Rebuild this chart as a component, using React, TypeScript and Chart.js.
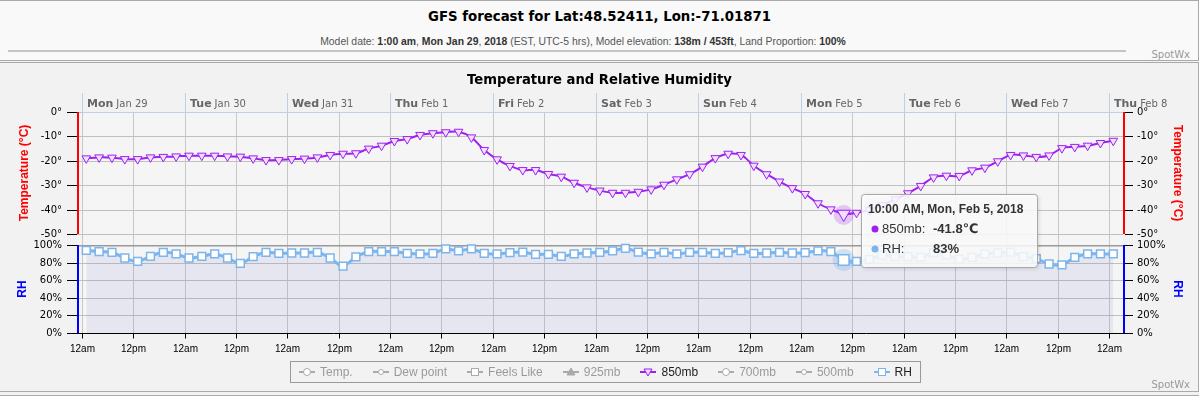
import React, { useEffect, useRef } from 'react';
import { Chart, registerables } from 'chart.js';

Chart.register(...registerables);

// Hours after Mon Jan 29 2018, 12:00 am (EST)
const HOURS = [
  1, 4, 7, 10, 13, 16, 19, 22,
  25, 28, 31, 34, 37, 40, 43, 46,
  49, 52, 55, 58, 61, 64, 67, 70,
  73, 76, 79, 82, 85, 88, 91, 94,
  97, 100, 103, 106, 109, 112, 115, 118,
  121, 124, 127, 130, 133, 136, 139, 142,
  145, 148, 151, 154, 157, 160, 163, 166,
  169, 172, 175, 178, 181, 184, 187, 190,
  193, 196, 199, 202, 205, 208, 211, 214,
  217, 220, 223, 226, 229, 232, 235, 238,
  241,
];

const T850 = [
  -19.0, -18.6, -18.7, -19.3, -19.3, -18.6, -18.4, -18.2,
  -17.9, -17.9, -17.9, -18.2, -18.3, -19.0, -19.7, -19.7,
  -19.3, -19.1, -18.6, -17.6, -17.1, -16.9, -15.0, -13.8,
  -11.9, -11.1, -9.4, -8.7, -8.3, -8.1, -10.4, -15.6,
  -19.4, -22.1, -23.8, -23.8, -25.4, -26.5, -29.0, -30.9,
  -32.2, -33.1, -33.1, -32.7, -31.7, -29.8, -27.6, -25.5,
  -22.4, -18.9, -17.1, -17.6, -22.0, -25.5, -28.5, -31.2,
  -33.6, -37.4, -39.9, -41.8, -41.3, -40.2, -38.1, -35.8,
  -33.3, -30.3, -26.8, -26.1, -26.2, -23.9, -22.8, -20.2,
  -17.6, -17.8, -18.4, -17.8, -14.8, -14.3, -13.8, -12.7,
  -11.8,
];

const RH = [
  94.0, 92.4, 91.7, 85.2, 81.4, 87.1, 91.7, 89.8,
  85.2, 87.1, 89.8, 85.2, 79.2, 86.7, 91.7, 90.5,
  90.9, 90.9, 91.7, 85.2, 76.1, 86.4, 92.4, 92.4,
  92.4, 90.5, 89.8, 90.5, 95.5, 93.2, 95.5, 90.5,
  89.8, 91.3, 92.0, 89.4, 89.4, 87.1, 89.8, 90.9,
  91.7, 93.2, 96.2, 92.0, 89.8, 91.7, 89.8, 91.7,
  91.7, 90.5, 91.3, 93.6, 90.5, 90.9, 91.7, 90.9,
  91.3, 93.2, 92.4, 83, 81.4, 83.7, 88.6, 86.7,
  86.7, 86.0, 91.3, 89.0, 83.7, 86.0, 89.8, 90.9,
  92.0, 86.7, 84.5, 78.4, 77.3, 86.0, 89.8, 89.8,
  89.8,
];

const DAY_HOURS = [0, 24, 48, 72, 96, 120, 144, 168, 192, 216, 240];
const DAY_NAMES = ['Mon', 'Tue', 'Wed', 'Thu', 'Fri', 'Sat', 'Sun', 'Mon', 'Tue', 'Wed', 'Thu'];
const DAY_DATES = ['Jan 29', 'Jan 30', 'Jan 31', 'Feb 1', 'Feb 2', 'Feb 3', 'Feb 4', 'Feb 5', 'Feb 6', 'Feb 7', 'Feb 8'];

const X_TICKS = [0, 12, 24, 36, 48, 60, 72, 84, 96, 108, 120, 132, 144, 156, 168, 180, 192, 204, 216, 228, 240];
const X_TICK_LABELS = [
  '12am', '12pm', '12am', '12pm', '12am', '12pm', '12am', '12pm', '12am', '12pm', '12am',
  '12pm', '12am', '12pm', '12am', '12pm', '12am', '12pm', '12am', '12pm', '12am',
];

const TEMP_TICKS = [0, -10, -20, -30, -40, -50];
const RH_TICKS = [0, 20, 40, 60, 80, 100];

const HOVER = 59;
const TOOLTIP_TITLE = '10:00 AM, Mon, Feb 5, 2018';

const LEGEND_ITEMS = ['Temp.', 'Dew point', 'Feels Like', '925mb', '850mb', '700mb', '500mb', 'RH'];
const LEGEND_SYMBOLS = ['circle', 'circleSmall', 'square', 'triangle', 'triangleDown', 'circle', 'circleSmall', 'square'];
const LEGEND_VISIBLE = [false, false, false, false, true, false, false, true];
const LEGEND_COLORS = ['#aaaaaa', '#aaaaaa', '#aaaaaa', '#aaaaaa', '#a020f0', '#aaaaaa', '#aaaaaa', '#7cb5ec'];

const PURPLE = '#a020f0';
const BLUE = '#7cb5ec';

const decorPlugin = {
  id: 'decor',
  beforeDraw(chart: any) {
    const { ctx, chartArea: a, scales } = chart;
    const xs = scales.x, yT = scales.yT, yR = scales.yR;
    ctx.save();
    ctx.fillStyle = '#f5f5f5';
    ctx.fillRect(a.left, a.top, a.right - a.left, a.bottom - a.top);
    ctx.lineWidth = 1;
    // vertical grid
    ctx.strokeStyle = '#c8c8c8';
    for (const h of X_TICKS) {
      const x = Math.round(xs.getPixelForValue(h)) + 0.5;
      ctx.beginPath(); ctx.moveTo(x, a.top); ctx.lineTo(x, a.bottom); ctx.stroke();
    }
    // horizontal grid
    ctx.strokeStyle = '#c0c0c0';
    for (const t of TEMP_TICKS) {
      const y = Math.round(yT.getPixelForValue(t)) + 0.5;
      ctx.beginPath(); ctx.moveTo(a.left, y); ctx.lineTo(a.right, y); ctx.stroke();
    }
    for (const r of RH_TICKS) {
      if (r === 0 || r === 100) continue;
      const y = Math.round(yR.getPixelForValue(r)) + 0.5;
      ctx.beginPath(); ctx.moveTo(a.left, y); ctx.lineTo(a.right, y); ctx.stroke();
    }
    const y100 = Math.round(yR.getPixelForValue(100));
    ctx.fillStyle = '#9a9a9a';
    ctx.fillRect(a.left, y100, a.right - a.left, 1.5);
    // top axis line and day separators
    ctx.strokeStyle = '#c0d0e0';
    const x0 = Math.round(xs.getPixelForValue(DAY_HOURS[0]));
    ctx.beginPath(); ctx.moveTo(x0, a.top + 0.5); ctx.lineTo(a.right, a.top + 0.5); ctx.stroke();
    for (const h of DAY_HOURS) {
      const x = Math.round(xs.getPixelForValue(h)) + 0.5;
      ctx.beginPath(); ctx.moveTo(x, a.top - 19); ctx.lineTo(x, a.top); ctx.stroke();
    }
    ctx.restore();
  },
  beforeDatasetsDraw(chart: any) {
    const { ctx } = chart;
    const p = chart.getDatasetMeta(0).data[HOVER];
    const q = chart.getDatasetMeta(1).data[HOVER];
    ctx.save();
    ctx.fillStyle = 'rgba(160,32,240,0.22)';
    ctx.beginPath(); ctx.arc(p.x, p.y + 1, 10, 0, Math.PI * 2); ctx.fill();
    ctx.fillStyle = 'rgba(124,181,236,0.3)';
    ctx.beginPath(); ctx.arc(q.x, q.y, 11, 0, Math.PI * 2); ctx.fill();
    ctx.restore();
  },
  afterDatasetsDraw(chart: any) {
    const { ctx, chartArea: a, scales } = chart;
    const xs = scales.x, yT = scales.yT, yR = scales.yR;
    ctx.save();
    // bottom axis
    ctx.strokeStyle = '#000';
    ctx.lineWidth = 1;
    const yb = Math.round(a.bottom) + 0.5;
    ctx.beginPath(); ctx.moveTo(a.left - 10, yb); ctx.lineTo(a.right + 10, yb); ctx.stroke();
    ctx.font = '10px "Liberation Sans", Arial, sans-serif';
    ctx.fillStyle = '#000';
    ctx.textAlign = 'center';
    ctx.textBaseline = 'middle';
    X_TICKS.forEach((h, i) => {
      const x = Math.round(xs.getPixelForValue(h)) + 0.5;
      ctx.beginPath(); ctx.moveTo(x, yb); ctx.lineTo(x, yb + 5); ctx.stroke();
      ctx.fillText(X_TICK_LABELS[i], x, a.bottom + 16);
    });
    // temperature axes (left & right)
    const tTop = yT.getPixelForValue(0), tBot = yT.getPixelForValue(-50);
    const rTop = yR.getPixelForValue(100), rBot = yR.getPixelForValue(0);
    ctx.fillStyle = '#ff0000';
    ctx.fillRect(a.left, tTop, 2, tBot - tTop);
    ctx.fillRect(a.right, tTop, 2, tBot - tTop);
    ctx.fillStyle = '#0000ff';
    ctx.fillRect(a.left, rTop, 2, rBot - rTop);
    ctx.fillRect(a.right, rTop, 2, rBot - rTop);
    ctx.font = '10px "DejaVu Sans", sans-serif';
    ctx.fillStyle = '#000';
    const tick = (y: number, label: string) => {
      const yy = Math.round(y) + 0.5;
      ctx.beginPath(); ctx.moveTo(a.left - 10, yy); ctx.lineTo(a.left, yy); ctx.stroke();
      ctx.beginPath(); ctx.moveTo(a.right + 2, yy); ctx.lineTo(a.right + 10, yy); ctx.stroke();
      ctx.textAlign = 'right';
      ctx.fillText(label, a.left - 15, yy);
      ctx.textAlign = 'left';
      ctx.fillText(label, a.right + 14, yy);
    };
    TEMP_TICKS.forEach((t) => tick(yT.getPixelForValue(t), `${t}°`));
    RH_TICKS.forEach((r) => tick(yR.getPixelForValue(r), `${r}%`));
    // axis titles
    const title = (text: string, color: string, x: number, y: number, rot: number) => {
      ctx.save();
      ctx.translate(x, y);
      ctx.rotate(rot);
      ctx.font = 'bold 12px "Liberation Sans", Arial, sans-serif';
      ctx.fillStyle = color;
      ctx.textAlign = 'center';
      ctx.textBaseline = 'middle';
      ctx.fillText(text, 0, 0);
      ctx.restore();
    };
    const tMid = (tTop + tBot) / 2, rMid = (rTop + rBot) / 2;
    title('Temperature (°C)', '#ff0000', 25, tMid, -Math.PI / 2);
    title('RH', '#0000ff', 23, rMid, -Math.PI / 2);
    title('Temperature (°C)', '#ff0000', 1177, tMid, Math.PI / 2);
    title('RH', '#0000ff', 1177, rMid, Math.PI / 2);
    // day labels
    ctx.textAlign = 'left';
    ctx.textBaseline = 'middle';
    DAY_HOURS.forEach((h, i) => {
      const x = Math.round(xs.getPixelForValue(h)) + 5;
      ctx.fillStyle = '#666';
      ctx.font = 'bold 11px "DejaVu Sans", sans-serif';
      ctx.fillText(DAY_NAMES[i], x, a.top - 8);
      const w = ctx.measureText(DAY_NAMES[i]).width;
      ctx.font = '10px "DejaVu Sans", sans-serif';
      ctx.fillText(DAY_DATES[i], x + w + 3, a.top - 8);
    });
    ctx.restore();
  },
  afterDraw(chart: any) {
    const { ctx } = chart;
    const p = chart.getDatasetMeta(0).data[HOVER];
    const bx = Math.round(p.x) + 17, by = Math.round(p.y) - 20, bw = 176, bh = 73;
    ctx.save();
    ctx.shadowColor = 'rgba(0,0,0,0.18)';
    ctx.shadowOffsetX = 1;
    ctx.shadowOffsetY = 1;
    ctx.shadowBlur = 4;
    ctx.fillStyle = 'rgba(255,255,255,0.85)';
    ctx.beginPath();
    ctx.roundRect(bx + 0.5, by + 0.5, bw, bh, 3);
    ctx.fill();
    ctx.shadowColor = 'transparent';
    ctx.strokeStyle = '#a8a8a8';
    ctx.lineWidth = 1;
    ctx.stroke();
    ctx.textBaseline = 'middle';
    ctx.textAlign = 'left';
    ctx.fillStyle = '#333';
    ctx.font = 'bold 12px "Liberation Sans", Arial, sans-serif';
    ctx.fillText(TOOLTIP_TITLE, bx + 7, by + 16);
    const row = (y: number, color: string, name: string, val: string) => {
      ctx.fillStyle = color;
      ctx.beginPath(); ctx.arc(bx + 14, y, 3.5, 0, Math.PI * 2); ctx.fill();
      ctx.fillStyle = '#333';
      ctx.font = '13px "Liberation Sans", Arial, sans-serif';
      ctx.fillText(name, bx + 21, y);
      ctx.font = 'bold 13px "Liberation Sans", "DejaVu Sans", sans-serif';
      ctx.fillText(val, bx + 72, y);
    };
    row(by + 35, PURPLE, '850mb:', `${T850[HOVER].toFixed(1)}℃`);
    row(by + 55, BLUE, 'RH:', `${RH[HOVER]}%`);
    ctx.restore();
  },
};

function LegendSymbol({ kind, color }: { kind: string; color: string }) {
  let marker: React.ReactNode = null;
  if (kind === 'circle') marker = <circle cx={8} cy={6} r={3.5} fill="#fff" stroke={color} strokeWidth={1} />;
  if (kind === 'circleSmall') marker = <circle cx={8} cy={6} r={2.5} fill="#fff" stroke={color} strokeWidth={1} />;
  if (kind === 'square') marker = <rect x={4.5} y={2.5} width={7} height={7} fill="#fff" stroke={color} strokeWidth={1} />;
  if (kind === 'triangle') marker = <polygon points="8,2 12,9 4,9" fill={color} stroke={color} strokeWidth={1} />;
  if (kind === 'triangleDown') marker = <polygon points="4,3 12,3 8,10" fill="#f0e0ff" stroke={color} strokeWidth={1} />;
  return (
    <svg width={16} height={12} style={{ display: 'block' }}>
      <line x1={0} y1={6} x2={16} y2={6} stroke={color} strokeWidth={2} />
      {marker}
    </svg>
  );
}

export default function App() {
  const ref = useRef<HTMLCanvasElement>(null);

  useEffect(() => {
    document.body.style.margin = '0';
    const canvas = ref.current;
    if (!canvas) return;
    const chart = new Chart(canvas, {
      type: 'line',
      data: {
        datasets: [
          {
            label: '850mb',
            data: T850.map((v, i) => ({ x: HOURS[i], y: v })),
            yAxisID: 'yT',
            borderColor: PURPLE,
            borderWidth: 2,
            tension: 0.35,
            fill: false,
            pointStyle: 'triangle',
            pointRotation: 180,
            pointRadius: (c: any) => (c.dataIndex === HOVER ? 7.5 : 5),
            pointBackgroundColor: '#f0e0ff',
            pointBorderColor: PURPLE,
            pointBorderWidth: 1,
          },
          {
            label: 'RH',
            data: RH.map((v, i) => ({ x: HOURS[i], y: v })),
            yAxisID: 'yR',
            borderColor: BLUE,
            borderWidth: 3,
            tension: 0.35,
            fill: 'origin',
            backgroundColor: 'rgba(120,120,215,0.12)',
            pointStyle: 'rect',
            pointRadius: (c: any) => (c.dataIndex === HOVER ? 7.5 : 5.5),
            pointBackgroundColor: '#ffffff',
            pointBorderColor: BLUE,
            pointBorderWidth: 1.5,
          },
        ],
      },
      options: {
        responsive: false,
        animation: false,
        devicePixelRatio: 1,
        events: [],
        layout: { autoPadding: false, padding: { left: 77, right: 76, top: 112, bottom: 63 } },
        plugins: { legend: { display: false }, tooltip: { enabled: false }, title: { display: false } },
        scales: {
          x: { type: 'linear', display: false, min: -1.17, max: 243.27, bounds: 'data' },
          yT: { type: 'linear', display: false, min: -90.57, max: 0, bounds: 'data' },
          yR: { type: 'linear', display: false, min: 0, max: 251.1, bounds: 'data' },
        },
      } as any,
      plugins: [decorPlugin],
    });
    return () => chart.destroy();
  }, []);

  const base: React.CSSProperties = { position: 'absolute' };

  return (
    <div style={{ position: 'fixed', left: 0, top: 0, width: 1199, height: 396, background: '#f2f2f2', overflow: 'hidden' }}>
      {/* header panel */}
      <div style={{ ...base, left: 0, top: 0, width: 1198, height: 59, borderTop: '1px solid #aaa', borderBottom: '1px solid #aaa', borderRight: '1px solid #aaa', background: '#f9f9f9' }} />
      <div style={{ ...base, left: 0, top: 9, width: 1199, height: 18, lineHeight: '18px', textAlign: 'center', font: 'bold 13.3px "DejaVu Sans", sans-serif', color: '#000' }}>
        GFS forecast for Lat:48.52411, Lon:-71.01871
      </div>
      <div style={{ ...base, left: 0, top: 36, width: 1166, height: 12, lineHeight: '12px', textAlign: 'center', font: '10.4px "Liberation Sans", Arial, sans-serif', color: '#555', whiteSpace: 'nowrap' }}>
        Model date: <b style={{ color: '#333' }}>1:00 am</b>, <b style={{ color: '#333' }}>Mon Jan 29</b>, <b style={{ color: '#333' }}>2018</b> (EST, UTC-5 hrs), Model elevation: <b style={{ color: '#333' }}>138m / 453ft</b>, Land Proportion: <b style={{ color: '#333' }}>100%</b>
      </div>
      <div style={{ ...base, left: 8, top: 50, width: 1118, height: 2, background: '#c4c4c4' }} />
      <div style={{ ...base, left: 1150, top: 49, width: 40, height: 12, lineHeight: '12px', textAlign: 'right', font: '10px "DejaVu Sans", sans-serif', color: '#999' }}>SpotWx</div>

      {/* chart panel */}
      <div style={{ ...base, left: 0, top: 62, width: 1198, height: 328, borderTop: '1px solid #aaa', borderBottom: '1px solid #aaa', borderRight: '1px solid #aaa', background: '#f2f2f2' }} />
      <div style={{ ...base, left: 0, top: 395, width: 1199, height: 1, background: '#aaa' }} />
      <canvas ref={ref} width={1199} height={396} style={{ ...base, left: 0, top: 0, width: 1199, height: 396 }} />
      <div style={{ ...base, left: 0, top: 72, width: 1199, height: 16, lineHeight: '16px', textAlign: 'center', font: 'bold 13.2px "DejaVu Sans", sans-serif', color: '#000' }}>
        Temperature and Relative Humidity
      </div>

      {/* legend */}
      <div style={{ ...base, left: 290, top: 361, height: 20, border: '1px solid #999', display: 'flex', alignItems: 'center', padding: '0 8px', gap: 20, font: '12px "Liberation Sans", Arial, sans-serif', whiteSpace: 'nowrap' }}>
        {LEGEND_ITEMS.map((name, i) => (
          <div key={name} style={{ display: 'flex', alignItems: 'center', gap: 5, color: LEGEND_VISIBLE[i] ? '#222' : '#9a9a9a' }}>
            <LegendSymbol kind={LEGEND_SYMBOLS[i]} color={LEGEND_COLORS[i]} />
            <span>{name}</span>
          </div>
        ))}
      </div>
      <div style={{ ...base, left: 1150, top: 379, width: 40, height: 12, lineHeight: '12px', textAlign: 'right', font: '10px "DejaVu Sans", sans-serif', color: '#999' }}>SpotWx</div>
    </div>
  );
}
